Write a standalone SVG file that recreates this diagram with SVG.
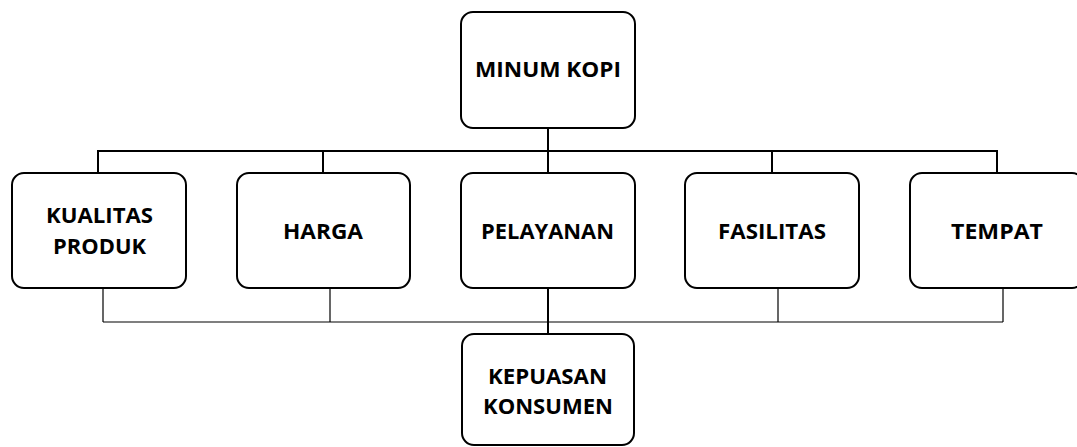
<svg xmlns="http://www.w3.org/2000/svg" width="1077" height="447" viewBox="0 0 1077 447">
<style>
.box{fill:#fff;stroke:#000;stroke-width:2}
.lbl{font-family:"Open Sans","Liberation Sans",sans-serif;font-weight:bold;font-size:22px;fill:#000;text-anchor:middle}
.thick{stroke:#000;stroke-width:2;fill:none}
.thin{stroke:#000;stroke-width:1.2;fill:none}
</style>
<rect width="1077" height="447" fill="#fff"/>
<g id="connectors">
<line class="thick" x1="548" y1="128" x2="548" y2="151"/>
<line class="thick" x1="97" y1="151" x2="998" y2="151"/>
<line class="thick" x1="98" y1="151" x2="98" y2="173"/>
<line class="thick" x1="323" y1="151" x2="323" y2="173"/>
<line class="thick" x1="548" y1="151" x2="548" y2="173"/>
<line class="thick" x1="772" y1="151" x2="772" y2="173"/>
<line class="thick" x1="997" y1="151" x2="997" y2="173"/>
<line class="thin" x1="103" y1="322" x2="1003" y2="322"/>
<line class="thin" x1="103" y1="288" x2="103" y2="322"/>
<line class="thin" x1="330" y1="288" x2="330" y2="322"/>
<line class="thin" x1="778" y1="288" x2="778" y2="322"/>
<line class="thin" x1="1003" y1="288" x2="1003" y2="322"/>
<line class="thick" x1="548" y1="288" x2="548" y2="334"/>
</g>
<g id="minum-kopi">
<rect class="box" x="461" y="12" width="174" height="116" rx="12"/>
<text class="lbl" x="548" y="77" textLength="146" lengthAdjust="spacingAndGlyphs">MINUM KOPI</text>
</g>
<g id="kualitas-produk">
<rect class="box" x="12" y="173" width="174" height="115" rx="12"/>
<text class="lbl" x="99.5" y="223" textLength="107" lengthAdjust="spacingAndGlyphs">KUALITAS</text>
<text class="lbl" x="99.5" y="254" textLength="93" lengthAdjust="spacingAndGlyphs">PRODUK</text>
</g>
<g id="harga">
<rect class="box" x="237" y="173" width="173" height="115" rx="12"/>
<text class="lbl" x="323" y="239" textLength="80" lengthAdjust="spacingAndGlyphs">HARGA</text>
</g>
<g id="pelayanan">
<rect class="box" x="461" y="173" width="174" height="115" rx="12"/>
<text class="lbl" x="547.5" y="239" textLength="133" lengthAdjust="spacingAndGlyphs">PELAYANAN</text>
</g>
<g id="fasilitas">
<rect class="box" x="685" y="173" width="174" height="115" rx="12"/>
<text class="lbl" x="772" y="239" textLength="108" lengthAdjust="spacingAndGlyphs">FASILITAS</text>
</g>
<g id="tempat">
<rect class="box" x="910" y="173" width="174" height="115" rx="12"/>
<text class="lbl" x="997" y="239" textLength="92" lengthAdjust="spacingAndGlyphs">TEMPAT</text>
</g>
<g id="kepuasan-konsumen">
<rect class="box" x="462" y="334" width="172" height="111" rx="12"/>
<text class="lbl" x="547.5" y="384" textLength="119" lengthAdjust="spacingAndGlyphs">KEPUASAN</text>
<text class="lbl" x="548" y="414" textLength="130" lengthAdjust="spacingAndGlyphs">KONSUMEN</text>
</g>
</svg>
